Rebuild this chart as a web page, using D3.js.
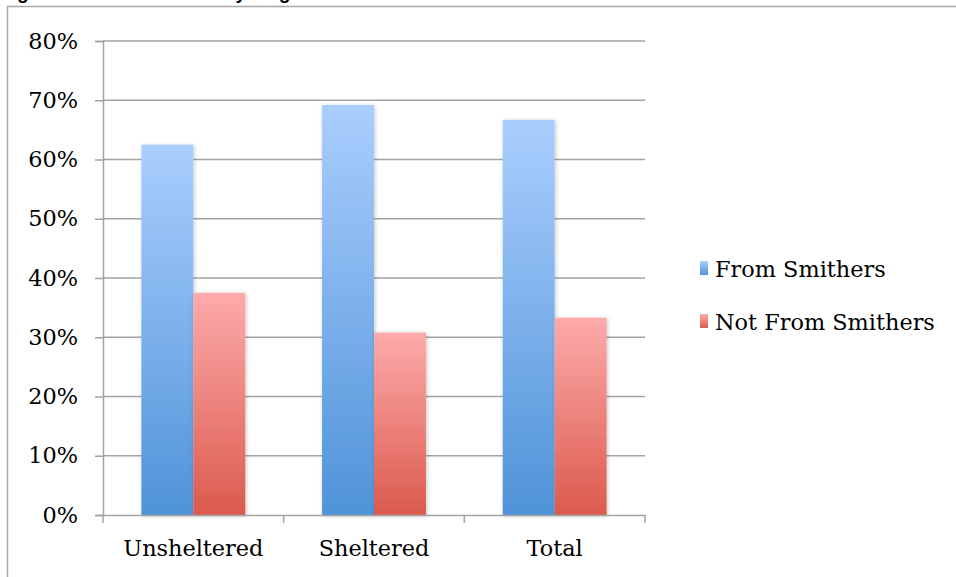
<!DOCTYPE html>
<html>
<head>
<meta charset="utf-8">
<script src="https://cdn.jsdelivr.net/npm/d3@7"></script>
<style>
  html, body { margin: 0; padding: 0; background: #fff; }
  svg { display: block; }
</style>
</head>
<body>
<svg id="chart" width="956" height="577"></svg>
<script>
// Share of respondents by origin, per shelter status
const categories = ["Unsheltered", "Sheltered", "Total"];
const seriesNames = ["From Smithers", "Not From Smithers"];
const fromSmithers = [62.5, 69.2, 66.7];
const notFromSmithers = [37.5, 30.8, 33.3];
const yTicks = [0, 10, 20, 30, 40, 50, 60, 70, 80];
const titleText = "Figure 4: Homelessness by Origin";

const svg = d3.select("#chart");
const W = 956, H = 577;
const margin = { left: 103, right: 311, top: 41, bottom: 62 };
const plotW = W - margin.left - margin.right;
const plotH = H - margin.top - margin.bottom;

const serif = "'DejaVu Serif', 'Liberation Serif', serif";
const fs = 22.4;

// gradients for the bars
const defs = svg.append("defs");
const grads = [
  { id: "gBlue", top: "#aacefe", bottom: "#4f93d8" },
  { id: "gRed", top: "#fdabab", bottom: "#db5a4d" }
];
grads.forEach(g => {
  const lg = defs.append("linearGradient").attr("id", g.id)
    .attr("x1", 0).attr("y1", 0).attr("x2", 0).attr("y2", 1);
  lg.append("stop").attr("offset", "0%").attr("stop-color", g.top);
  lg.append("stop").attr("offset", "100%").attr("stop-color", g.bottom);
});
const shadow = defs.append("filter").attr("id", "shadow")
  .attr("x", "-20%").attr("y", "-10%").attr("width", "140%").attr("height", "120%");
shadow.append("feDropShadow").attr("dx", 1).attr("dy", 1)
  .attr("stdDeviation", 2).attr("flood-color", "#000").attr("flood-opacity", 0.22);

// title (sits above the frame)
svg.append("text").attr("x", 0).attr("y", -1)
  .attr("font-family", "'Liberation Sans', Arial, sans-serif")
  .attr("font-weight", "bold").attr("font-size", 19)
  .attr("fill", "#000").text(titleText);

// outer frame
svg.append("path")
  .attr("d", `M7.5,${H + 5} L7.5,6.5 L${W + 5},6.5`)
  .attr("fill", "none").attr("stroke", "#a6a6a6").attr("stroke-width", 1.5);

const x0 = d3.scaleBand().domain(categories).range([0, plotW]).paddingInner(0).paddingOuter(0);
const groupW = x0.bandwidth() * 0.575;
const x1 = d3.scaleBand().domain(seriesNames).range([0, groupW]).padding(0);
const y = d3.scaleLinear().domain([0, 80]).range([plotH, 0]);

const g = svg.append("g").attr("transform", `translate(${margin.left},${margin.top})`);

// gridlines
g.append("g").selectAll("line").data(yTicks.filter(d => d > 0)).join("line")
  .attr("x1", 0).attr("x2", plotW)
  .attr("y1", d => y(d)).attr("y2", d => y(d))
  .attr("stroke", "#a3a3a3").attr("stroke-width", 1.5);

// bars
const rows = categories.map((c, i) => ({ cat: c, vals: [fromSmithers[i], notFromSmithers[i]] }));
const groups = g.append("g").selectAll("g").data(rows).join("g")
  .attr("transform", d => `translate(${x0(d.cat) + (x0.bandwidth() - groupW) / 2},0)`);
groups.selectAll("rect").data(d => d.vals.map((v, j) => ({ v, s: seriesNames[j], j }))).join("rect")
  .attr("x", d => x1(d.s))
  .attr("width", x1.bandwidth())
  .attr("y", d => y(d.v))
  .attr("height", d => plotH - y(d.v))
  .attr("fill", d => d.j === 0 ? "url(#gBlue)" : "url(#gRed)")
  .attr("filter", "url(#shadow)");

// y axis
const yAxis = d3.axisLeft(y).tickValues(yTicks).tickFormat(d => d + "%").tickSize(8).tickPadding(17);
const ya = g.append("g").call(yAxis);
ya.select(".domain").attr("stroke", "#a3a3a3").attr("stroke-width", 1.5);
ya.selectAll(".tick line").attr("stroke", "#a3a3a3").attr("stroke-width", 1.5);
ya.selectAll(".tick text").attr("font-family", serif).attr("font-size", fs).attr("fill", "#000");

// x axis
const xAxis = d3.axisBottom(x0).tickSize(0).tickPadding(25);
const xa = g.append("g").attr("transform", `translate(0,${plotH})`).call(xAxis);
xa.select(".domain").attr("stroke", "#a3a3a3").attr("stroke-width", 1.5);
xa.selectAll(".tick text").attr("font-family", serif).attr("font-size", fs).attr("fill", "#000");
// category boundary ticks
xa.append("g").selectAll("line").data(d3.range(categories.length + 1)).join("line")
  .attr("x1", i => i * x0.bandwidth()).attr("x2", i => i * x0.bandwidth())
  .attr("y1", 0).attr("y2", 8)
  .attr("stroke", "#a3a3a3").attr("stroke-width", 1.5);

// legend
const legend = svg.append("g").attr("transform", "translate(700,261)");
const li = legend.selectAll("g").data(seriesNames).join("g")
  .attr("transform", (d, i) => `translate(0,${i * 53})`);
li.append("rect").attr("width", 8).attr("height", 14)
  .attr("fill", (d, i) => i === 0 ? "url(#gBlue)" : "url(#gRed)");
li.append("text").attr("x", 15).attr("y", 16)
  .attr("font-family", serif).attr("font-size", fs).attr("fill", "#000")
  .text(d => d);
</script>
</body>
</html>
